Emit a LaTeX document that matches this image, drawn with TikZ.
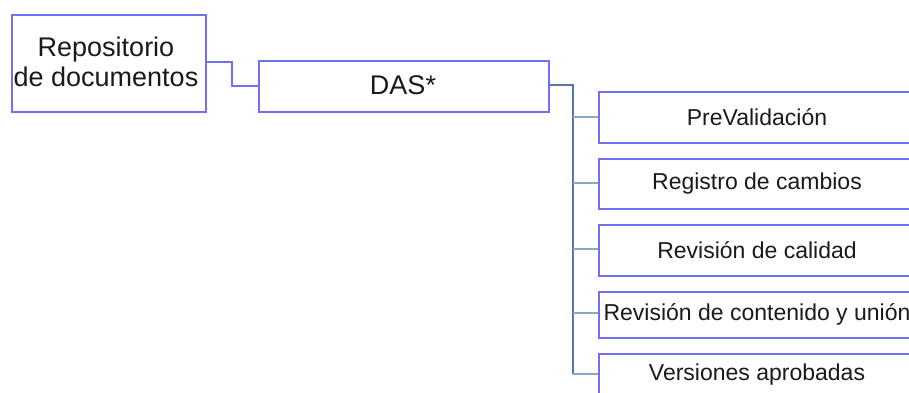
\documentclass[tikz,border=0pt]{standalone}
\usepackage{fontspec}
\setmainfont{Liberation Sans}
\definecolor{boxblue}{HTML}{7070F0}
\definecolor{treeblue}{HTML}{5578A8}
\definecolor{branchblue}{HTML}{8AA6C8}
\definecolor{ink}{HTML}{1A1A1A}
\tikzset{
  box/.style={draw=boxblue, line width=1.5pt, fill=white, inner sep=0pt},
  bigtext/.style={font=\fontsize{27}{30}\selectfont, align=center, text=ink},
  smalltext/.style={font=\fontsize{23}{26}\selectfont, text=ink},
  link/.style={draw=boxblue, line width=1.5pt},
  trunk/.style={draw=treeblue, line width=1.8pt},
  branch/.style={draw=branchblue, line width=1.5pt},
}
\begin{document}
\begin{tikzpicture}[x=1pt,y=-1pt]
\useasboundingbox (0,0) rectangle (909,392);
\clip (0,0) rectangle (909,392);
% connectors
\coordinate (rj1) at (232,62);
\coordinate (rj2) at (232,86);
\coordinate (dj) at (573,85);
\coordinate (t1) at (573,117);
\coordinate (t2) at (573,183);
\coordinate (t3) at (573,249);
\coordinate (t4) at (573,313);
\coordinate (t5) at (573,374);
% boxes
\node[box, minimum width=194pt, minimum height=97pt, anchor=north west] (repo) at (11,14) {};
\node[bigtext] (repot) at (106,62) {Repositorio\\de documentos};
\node[box, minimum width=290pt, minimum height=51pt, anchor=north west] (das) at (258,60) {};
\node[bigtext] (dast) at (403,85) {DAS*};
\node[box, minimum width=318pt, minimum height=51pt, anchor=north west] (b1) at (598,91) {};
\node[box, minimum width=318pt, minimum height=50pt, anchor=north west] (b2) at (598,158) {};
\node[box, minimum width=318pt, minimum height=51pt, anchor=north west] (b3) at (598,224) {};
\node[box, minimum width=318pt, minimum height=46pt, anchor=north west] (b4) at (598,291) {};
\node[box, minimum width=318pt, minimum height=50pt, anchor=north west] (b5) at (598,353) {};
\node[smalltext] (l1) at (757,117) {PreValidación};
\node[smalltext] (l2) at (757,184) {Registro de cambios};
\node[smalltext] (l3) at (757,250) {Revisión de calidad};
\node[smalltext] (l4) at (757,314) {Revisión de contenido y unión};
\node[smalltext] (l5) at (757,375) {Versiones aprobadas};
\draw[link] (repo.east |- rj1) -- (rj1) -- (rj2) -- (das.west |- rj2);
\draw[trunk] (das.east |- dj) -- (dj) -- (t5);
\draw[branch] (t1) -- (b1.west |- t1);
\draw[branch] (t2) -- (b2.west |- t2);
\draw[branch] (t3) -- (b3.west |- t3);
\draw[branch] (t4) -- (b4.west |- t4);
\draw[branch] (t5) -- (b5.west |- t5);
\end{tikzpicture}
\end{document}
